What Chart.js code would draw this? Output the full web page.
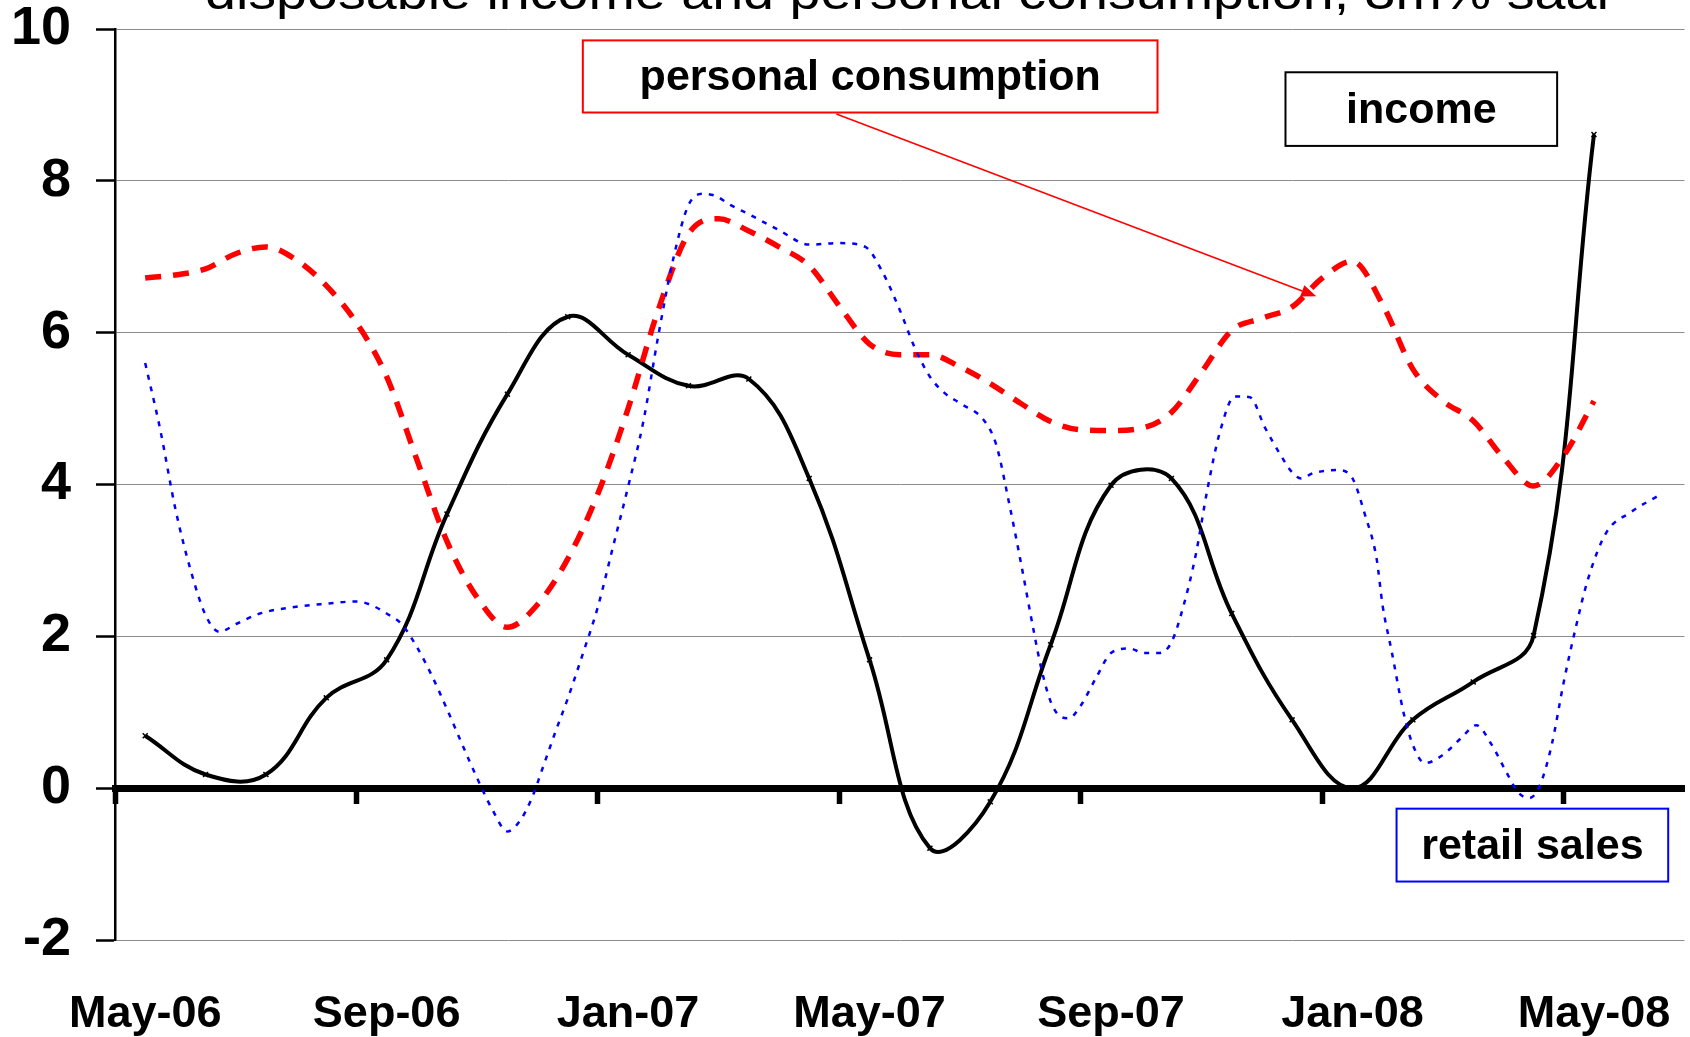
<!DOCTYPE html>
<html>
<head>
<meta charset="utf-8">
<title>Disposable income, personal consumption and retail sales</title>
<script src="https://cdn.jsdelivr.net/npm/chart.js@4.4.0/dist/chart.umd.min.js"></script>
<style>
  html, body { margin: 0; padding: 0; background: #fff; }
  #chart { display: block; }
</style>
</head>
<body>
<canvas id="chart" width="1690" height="1037"></canvas>
<script>
// x is a month index: 0 = May-06, 24 = May-08
const FONT = '"Liberation Sans", Arial, Helvetica, sans-serif';

const titleText = 'disposable income and personal consumption, 3m% saar';

const tickLabels = ['May-06', 'Sep-06', 'Jan-07', 'May-07', 'Sep-07', 'Jan-08', 'May-08'];
const labelMonths = [0, 4, 8, 12, 16, 20, 24];
const boundaryMonths = [-0.5, 3.5, 7.5, 11.5, 15.5, 19.5, 23.5];
const yTicks = [-2, 0, 2, 4, 6, 8, 10];

// income, one value per month (May-06 .. May-08)
const incomeMonths = [0, 1, 2, 3, 4, 5, 6, 7, 8, 9, 10, 11, 12, 13, 14, 15, 16, 17, 18, 19, 20, 21, 22, 23, 24];
const incomeValues = [0.69, 0.18, 0.18, 1.19, 1.69, 3.61, 5.19, 6.21, 5.71, 5.30, 5.39, 4.08, 1.69,
  -0.79, -0.18, 1.89, 3.99, 4.08, 2.30, 0.90, 0.00, 0.90, 1.40, 2.01, 8.61];

// personal consumption, [month, value]
const consumption = [
  [0, 6.72], [0.5, 6.76], [1, 6.84], [1.5, 7.04], [2, 7.13], [2.5, 6.96], [3, 6.62], [3.5, 6.13],
  [4, 5.42], [4.5, 4.33], [5, 3.25], [5.5, 2.51], [6, 2.12], [6.5, 2.42], [7, 3.02], [7.5, 3.88],
  [8, 5.00], [8.5, 6.30], [9, 7.30], [9.5, 7.50], [10, 7.34], [10.5, 7.13], [11, 6.88], [11.5, 6.35],
  [12, 5.85], [12.5, 5.71], [13, 5.71], [13.5, 5.55], [14, 5.33], [14.5, 5.07], [15, 4.83], [15.5, 4.72],
  [16, 4.71], [16.5, 4.74], [17, 4.95], [17.5, 5.48], [18, 6.03], [18.5, 6.19], [19, 6.34], [19.5, 6.72],
  [20, 6.94], [20.5, 6.37], [21, 5.52], [21.5, 5.10], [22, 4.84], [22.5, 4.35], [23, 3.98], [23.5, 4.38],
  [24, 5.10]
];

// retail sales, [month, value]
const retail = [
  [0, 5.60], [0.25, 4.72], [0.5, 3.68], [0.75, 2.88], [1, 2.28], [1.23, 2.06], [1.5, 2.16], [1.9, 2.30],
  [2.5, 2.39], [3, 2.43], [3.5, 2.46], [3.75, 2.41], [4, 2.30], [4.25, 2.16], [4.5, 1.86], [4.75, 1.48],
  [5, 1.04], [5.25, 0.58], [5.5, 0.13], [5.75, -0.28], [6, -0.57], [6.2, -0.44], [6.4, -0.14], [6.6, 0.30],
  [6.8, 0.75], [7, 1.18], [7.25, 1.77], [7.5, 2.39], [7.75, 3.18], [8, 3.97], [8.25, 4.82], [8.5, 5.96],
  [8.75, 6.98], [9, 7.68], [9.25, 7.83], [9.45, 7.80], [9.7, 7.68], [10, 7.56], [10.5, 7.35], [11, 7.16],
  [11.5, 7.18], [11.93, 7.13], [12.2, 6.82], [12.5, 6.30], [12.75, 5.80], [13, 5.42], [13.25, 5.20],
  [13.5, 5.07], [13.9, 4.84], [14.1, 4.52], [14.3, 3.80], [14.5, 3.00], [14.7, 2.15], [14.85, 1.56],
  [15, 1.14], [15.15, 0.95], [15.3, 0.92], [15.5, 1.09], [15.75, 1.45], [16, 1.78], [16.3, 1.84],
  [16.55, 1.78], [16.8, 1.78], [17, 1.92], [17.2, 2.40], [17.4, 3.06], [17.6, 3.95], [17.8, 4.68],
  [18.05, 5.16], [18.3, 5.15], [18.55, 4.75], [18.8, 4.40], [19, 4.16], [19.15, 4.08], [19.35, 4.15],
  [19.75, 4.19], [20, 4.08], [20.2, 3.62], [20.4, 3.02], [20.5, 2.40], [20.65, 1.80], [20.85, 0.98],
  [21, 0.57], [21.2, 0.33], [21.5, 0.44], [21.8, 0.66], [22.05, 0.83], [22.3, 0.58], [22.55, 0.21],
  [22.75, -0.06], [22.93, -0.13], [23.1, 0.03], [23.3, 0.57], [23.5, 1.40], [23.7, 2.12], [23.9, 2.75],
  [24.2, 3.36], [24.6, 3.63], [25.08, 3.86]
];

// text boxes, placed in data units
const boxes = [
  { text: 'personal consumption', color: '#ff0000', x0: 7.25, x1: 16.77, y0: 9.85, y1: 8.9 },
  { text: 'income', color: '#000000', x0: 18.89, x1: 23.39, y0: 9.43, y1: 8.46 },
  { text: 'retail sales', color: '#0000ff', x0: 20.73, x1: 25.23, y0: -0.27, y1: -1.23 }
];
const arrow = { from: [11.45, 8.88], to: [19.40, 6.48], color: '#ff0000' };

/**
 * Boxes, arrow and the (cropped) title
 */
const annotations = {
  id: 'annotations',
  afterDatasetsDraw(chart) {
    const { ctx, scales: { x, y } } = chart;
    ctx.save();

    boxes.forEach(b => {
      const left = x.getPixelForValue(b.x0);
      const right = x.getPixelForValue(b.x1);
      const top = y.getPixelForValue(b.y0);
      const bottom = y.getPixelForValue(b.y1);
      ctx.fillStyle = '#fff';
      ctx.fillRect(left, top, right - left, bottom - top);
      ctx.strokeStyle = b.color;
      ctx.lineWidth = 2;
      ctx.strokeRect(left, top, right - left, bottom - top);
      ctx.fillStyle = '#000';
      ctx.font = `bold 43px ${FONT}`;
      ctx.textAlign = 'center';
      ctx.textBaseline = 'middle';
      ctx.fillText(b.text, (left + right) / 2, (top + bottom) / 2 + 2);
    });

    const x0 = x.getPixelForValue(arrow.from[0]);
    const y0 = y.getPixelForValue(arrow.from[1]);
    const x1 = x.getPixelForValue(arrow.to[0]);
    const y1 = y.getPixelForValue(arrow.to[1]);
    const ang = Math.atan2(y1 - y0, x1 - x0);
    const headLen = 15;
    const headHalf = 6;
    const bx = x1 - headLen * Math.cos(ang);
    const by = y1 - headLen * Math.sin(ang);
    ctx.strokeStyle = arrow.color;
    ctx.fillStyle = arrow.color;
    ctx.lineWidth = 1.6;
    ctx.beginPath();
    ctx.moveTo(x0, y0);
    ctx.lineTo(bx, by);
    ctx.stroke();
    ctx.beginPath();
    ctx.moveTo(x1, y1);
    ctx.lineTo(bx + headHalf * Math.sin(ang), by - headHalf * Math.cos(ang));
    ctx.lineTo(bx - headHalf * Math.sin(ang), by + headHalf * Math.cos(ang));
    ctx.closePath();
    ctx.fill();

    ctx.restore();
  },
  afterDraw(chart) {
    const { ctx } = chart;
    ctx.save();
    ctx.font = `48px ${FONT}`;
    ctx.fillStyle = '#000';
    ctx.textAlign = 'center';
    ctx.textBaseline = 'alphabetic';
    const w = ctx.measureText(titleText).width;
    ctx.translate(910, 9);
    ctx.scale(1410 / w, 1);
    ctx.fillText(titleText, 0, 0);
    ctx.restore();
  }
};

const toPoints = pairs => pairs.map(([x, y]) => ({ x, y }));

const ctx = document.getElementById('chart').getContext('2d');

new Chart(ctx, {
  type: 'line',
  data: {
    datasets: [
      {
        label: 'retail sales',
        data: toPoints(retail),
        xAxisID: 'x',
        yAxisID: 'y',
        borderColor: '#0000ff',
        borderWidth: 2.5,
        borderDash: [5, 7],
        pointRadius: 0,
        cubicInterpolationMode: 'monotone',
        fill: false,
      },
      {
        label: 'personal consumption',
        data: toPoints(consumption),
        xAxisID: 'x',
        yAxisID: 'y',
        borderColor: '#ff0000',
        borderWidth: 5.5,
        borderDash: [16, 12],
        pointRadius: 0,
        cubicInterpolationMode: 'monotone',
        fill: false,
      },
      {
        label: 'income',
        data: incomeMonths.map((m, i) => ({ x: m, y: incomeValues[i] })),
        xAxisID: 'x',
        yAxisID: 'y',
        borderColor: '#000000',
        borderWidth: 4,
        borderJoinStyle: 'round',
        tension: 0.4,
        pointStyle: 'crossRot',
        pointRadius: 3.5,
        pointBorderWidth: 1.5,
        pointBorderColor: '#000000',
        fill: false,
      },
    ],
  },
  options: {
    responsive: false,
    animation: false,
    devicePixelRatio: 1,
    layout: { padding: { top: 29, right: 3, bottom: 0, left: 0 } },
    plugins: {
      legend: { display: false },
      tooltip: { enabled: false },
    },
    scales: {
      x: {
        type: 'linear',
        position: 'bottom',
        min: -0.5,
        max: 25.5,
        afterBuildTicks: axis => { axis.ticks = labelMonths.map(v => ({ value: v })); },
        afterFit: axis => { axis.height = 97; },
        grid: { display: false, drawTicks: true, tickLength: 48 },
        border: { display: false },
        ticks: {
          callback: v => tickLabels[labelMonths.indexOf(v)],
          autoSkip: false,
          maxRotation: 0,
          padding: 0,
          color: '#000',
          font: { family: FONT, size: 45, weight: 'bold' },
        },
      },
      xZero: {
        axis: 'x',
        type: 'linear',
        position: { y: 0 },
        min: -0.5,
        max: 25.5,
        afterBuildTicks: axis => { axis.ticks = boundaryMonths.map(v => ({ value: v })); },
        grid: { drawOnChartArea: false, drawTicks: true, tickLength: 12, tickWidth: 5.5, tickColor: '#000' },
        border: { display: true, width: 7, color: '#000' },
        ticks: { display: false },
      },
      y: {
        type: 'linear',
        min: -2,
        max: 10,
        afterBuildTicks: axis => { axis.ticks = yTicks.map(v => ({ value: v })); },
        afterFit: axis => {
          axis.width = 115;
          axis.paddingTop = 0;
          axis.paddingBottom = 0;
        },
        grid: { color: '#8c8c8c', lineWidth: 1, tickColor: '#000', tickWidth: 2.5, tickLength: 19 },
        border: { color: '#000', width: 2.5 },
        ticks: {
          padding: 25,
          color: '#000',
          font: { family: FONT, size: 54, weight: 'bold', lineHeight: 1.08 },
        },
      },
    },
  },
  plugins: [annotations],
});
</script>
</body>
</html>
